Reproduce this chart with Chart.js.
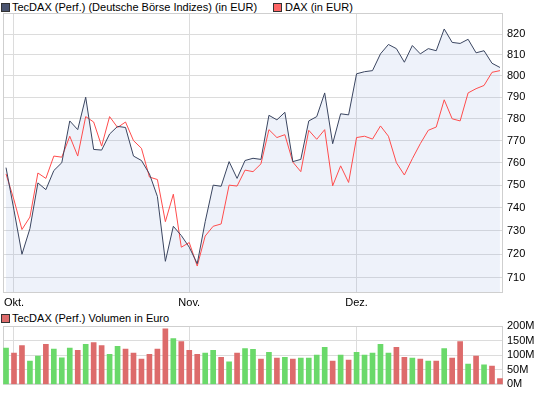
<!DOCTYPE html>
<html>
<head>
<meta charset="utf-8">
<script src="https://cdn.jsdelivr.net/npm/chart.js@4.4.0/dist/chart.umd.min.js"></script>
<style>
body { margin: 0; background: #fff; width: 545px; height: 395px; position: relative; overflow: hidden;
       font-family: "Liberation Sans", Arial, sans-serif; font-size: 11px; color: #000; }
.box { position: absolute; width: 7px; height: 7px; border: 1px solid #333; }
.txt { position: absolute; white-space: nowrap; line-height: 13px; }
#c1 { position: absolute; left: 0; top: 0; }
#c2 { position: absolute; left: 0; top: 310px; }
</style>
</head>
<body>
<span class="box" style="left:1px;top:3px;background:#4a5470"></span>
<span class="txt" style="left:12px;top:1px">TecDAX (Perf.) (Deutsche Börse Indizes) (in EUR)</span>
<span class="box" style="left:273px;top:3px;background:#ff6666"></span>
<span class="txt" style="left:285px;top:1px">DAX (in EUR)</span>
<span class="box" style="left:1px;top:314px;background:#dd6b6b"></span>
<span class="txt" style="left:12px;top:312px">TecDAX (Perf.) Volumen in Euro</span>
<canvas id="c1" width="545" height="310"></canvas>
<canvas id="c2" width="545" height="85"></canvas>
<script>
// Kurse (TecDAX und DAX relativ, gleiche Skala)
const tecdax = [757.8, 739, 720, 731, 751, 748, 756.5, 760, 779, 775,
    790, 766, 765.7, 773, 776.5, 776, 763, 761, 755, 745,
    717, 732, 728, 723, 716, 734, 750, 749.5, 760.5, 753,
    761, 762, 761.5, 781.6, 779.5, 783, 760.5, 761.5, 779, 781,
    792, 768.6, 782.3, 781.8, 801, 802, 802.5, 810.5, 815, 813,
    806.5, 814.5, 810.5, 813, 812, 822.5, 816, 815.5, 817.5, 811,
    812, 806, 804];
const dax = [755, 743.5, 730.6, 736, 755.4, 753, 763, 762.5, 772, 763,
    781, 778.5, 767.5, 781, 776, 778.5, 770, 766.5, 753.6, 752.5,
    734, 746, 723, 725, 715, 727.8, 732, 733, 750, 749.6,
    756.7, 756, 759.5, 775, 771.4, 772.7, 760.3, 756, 774.7, 770.6,
    775, 749.7, 758.6, 751.2, 771.4, 772, 770.7, 776.7, 772, 760,
    754.5, 761.8, 768.6, 774.7, 776.2, 788.8, 780, 779, 792, 794,
    795.5, 801.7, 802.5];
// Volumen in Mio. Euro
const volumen = [124, 107, 133, 80, 97, 137, 121, 91, 124, 117,
    137, 143, 133, 103, 130, 121, 107, 87, 103, 121,
    190, 157, 147, 117, 103, 107, 117, 93, 77, 107,
    123, 120, 87, 110, 90, 93, 87, 90, 90, 100,
    127, 80, 100, 83, 110, 100, 107, 137, 107, 127,
    93, 90, 87, 80, 80, 123, 90, 147, 70, 97,
    67, 63, 20];
const monthLabels = ['Okt.', 'Nov.', 'Dez.'];
const monthStarts = [1, 23, 44];
const priceTicks = [710, 720, 730, 740, 750, 760, 770, 780, 790, 800, 810, 820];
const volTicks = [0, 50, 100, 150, 200];

Chart.defaults.font.family = '"Liberation Sans", Arial, sans-serif';
Chart.defaults.font.size = 11;
Chart.defaults.color = '#000';

const gridColor = '#dcdcdc';

const frame = {
    id: 'frame',
    beforeDatasetsDraw(chart) {
        const a = chart.chartArea;
        const ctx = chart.ctx;
        ctx.save();
        ctx.strokeStyle = '#cfcfcf';
        ctx.lineWidth = 1;
        ctx.strokeRect(a.left + 0.5, a.top + 0.5, a.right - a.left - 1, a.bottom - a.top - 1);
        ctx.restore();
    }
};

function xScale(showLabels, h) {
    return {
        type: 'linear',
        offset: false,
        min: -0.38,
        max: 62.38,
        afterBuildTicks: s => { s.ticks = monthStarts.map(v => ({ value: v })); },
        afterFit: s => { s.height = h; },
        grid: { color: gridColor, drawTicks: false, offset: false },
        border: { display: false },
        ticks: {
            display: showLabels,
            padding: 3,
            maxRotation: 0,
            callback: v => monthLabels[monthStarts.indexOf(v)]
        }
    };
}

new Chart(document.getElementById('c1'), {
    type: 'line',
    data: {
        datasets: [{
            label: 'TecDAX (Perf.) (Deutsche Börse Indizes) (in EUR)',
            data: tecdax.map((v, i) => ({ x: i, y: v })),
            borderColor: '#3a4560',
            borderWidth: 1,
            pointRadius: 0,
            fill: 'start',
            backgroundColor: 'rgba(142,168,222,0.15)'
        }, {
            label: 'DAX (in EUR)',
            data: dax.map((v, i) => ({ x: i, y: v })),
            borderColor: '#ff4c4c',
            borderWidth: 1,
            pointRadius: 0,
            fill: false
        }]
    },
    options: {
        responsive: false,
        animation: false,
        layout: { padding: { left: 3, top: 13, right: 0, bottom: 0 } },
        plugins: {
            legend: { display: false },
            tooltip: { enabled: false },
            filler: { drawTime: 'beforeDatasetsDraw' }
        },
        scales: {
            x: xScale(true, 17),
            y: {
                type: 'logarithmic',
                position: 'right',
                min: 703.7,
                max: 830.3,
                afterBuildTicks: s => { s.ticks = priceTicks.map(v => ({ value: v })); },
                afterFit: s => { s.width = 42; },
                grid: { color: gridColor, drawTicks: false },
                border: { display: false },
                ticks: { padding: 4, callback: v => String(v) }
            }
        }
    },
    plugins: [frame]
});

new Chart(document.getElementById('c2'), {
    type: 'bar',
    data: {
        datasets: [{
            label: 'TecDAX (Perf.) Volumen in Euro',
            data: volumen.map((v, i) => ({ x: i, y: v })),
            backgroundColor: volumen.map((v, i) => (i === 0 || tecdax[i] >= tecdax[i - 1]) ? '#6ad96a' : '#dd6b6b'),
            barThickness: 5,
            borderWidth: 0
        }]
    },
    options: {
        responsive: false,
        animation: false,
        layout: { padding: { left: 3, top: 16, right: 0, bottom: 0 } },
        plugins: {
            legend: { display: false },
            tooltip: { enabled: false }
        },
        scales: {
            x: xScale(false, 9),
            y: {
                position: 'right',
                min: 0,
                max: 200,
                afterBuildTicks: s => { s.ticks = volTicks.map(v => ({ value: v })); },
                afterFit: s => { s.width = 42; },
                grid: { color: gridColor, drawTicks: false },
                border: { display: false },
                ticks: { padding: 4, callback: v => v + 'M' }
            }
        }
    },
    plugins: [frame]
});
</script>
</body>
</html>
